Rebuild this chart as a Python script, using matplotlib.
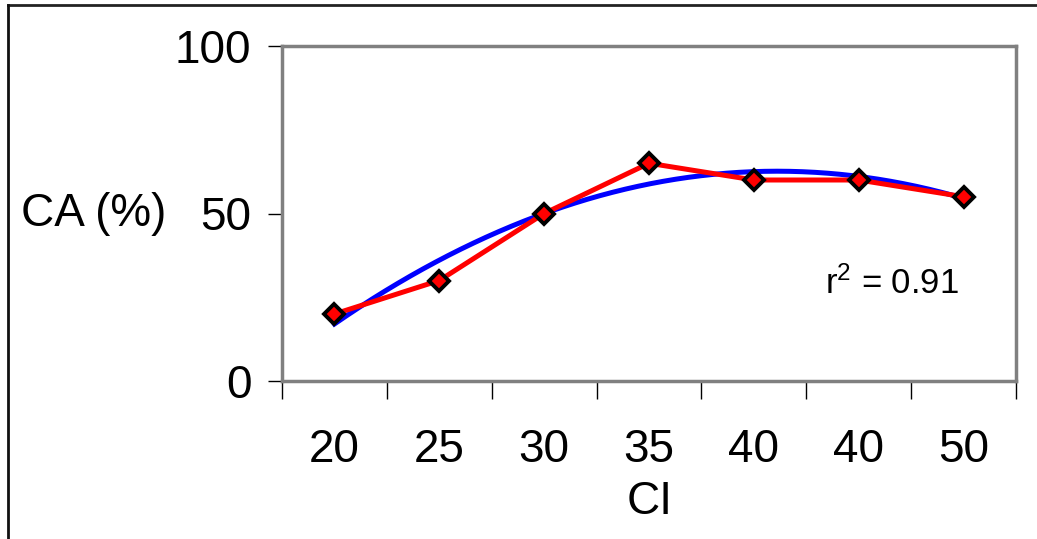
import numpy as np
import matplotlib
matplotlib.use("Agg")
import matplotlib.pyplot as plt
from matplotlib.lines import Line2D

plt.rcParams['font.family'] = ['Liberation Sans', 'DejaVu Sans']
plt.rcParams['mathtext.fontset'] = 'custom'
plt.rcParams['mathtext.rm'] = 'Liberation Sans'
plt.rcParams['mathtext.it'] = 'Liberation Sans'

# data
categories = ["20", "25", "30", "35", "40", "40", "50"]
ca_values = [20, 30, 50, 65, 60, 60, 55]
r2_label = r"r$^\mathregular{2}$ = 0.91"

W, H = 1037, 539
fig = plt.figure(figsize=(W / 100, H / 100), dpi=100)
ax = fig.add_axes([282 / W, 1 - 381 / H, (1016 - 282) / W, (381 - 46) / H])

x = np.arange(len(categories))

# 2nd order polynomial trendline like Excel
coef = np.polyfit(x, ca_values, 2)
xs = np.linspace(x[0], x[-1], 200)
ax.plot(xs, np.polyval(coef, xs), color="#0000ff", lw=3.6, zorder=2)

ax.plot(x, ca_values, color="#ff0000", lw=3.6, zorder=3,
        marker="D", markersize=10, markerfacecolor="#ff0000",
        markeredgecolor="black", markeredgewidth=2.8)

ax.set_xlim(-0.5, len(categories) - 0.5)
ax.set_ylim(0, 100)
ax.set_yticks([0, 50, 100])
ax.set_yticklabels(["0", "50", "100"])

# ticks between categories, labels centred
ax.set_xticks(np.arange(-0.5, len(categories), 1.0))
ax.set_xticklabels([])
ax.set_xticks(x, minor=True)
ax.set_xticklabels(categories, minor=True)
ax.tick_params(axis="x", which="major", direction="out", length=13, width=1, color="black")
ax.tick_params(axis="x", which="minor", length=0, pad=34, labelsize=33)
ax.tick_params(axis="y", direction="out", length=10, width=1, color="black", labelsize=33, pad=12)

for s in ax.spines.values():
    s.set_color("#808080")
    s.set_linewidth(2.5)

fig.text(650 / W, 1 - 502 / H, "CI", fontsize=33, ha="center", va="center")
fig.text(94 / W, 1 - 214 / H, "CA (%)", fontsize=33, ha="center", va="center")
ax.text(0.831, 0.29, r2_label, transform=ax.transAxes, fontsize=25,
        ha="center", va="center")

# outer chart frame (top and left edges visible)
fig.add_artist(Line2D([8 / W, 1], [1 - 5 / H, 1 - 5 / H], color="#222222", lw=2))
fig.add_artist(Line2D([8 / W, 8 / W], [0, 1 - 5 / H], color="#111111", lw=2))

fig.savefig("out.png", dpi=100, facecolor="white")
